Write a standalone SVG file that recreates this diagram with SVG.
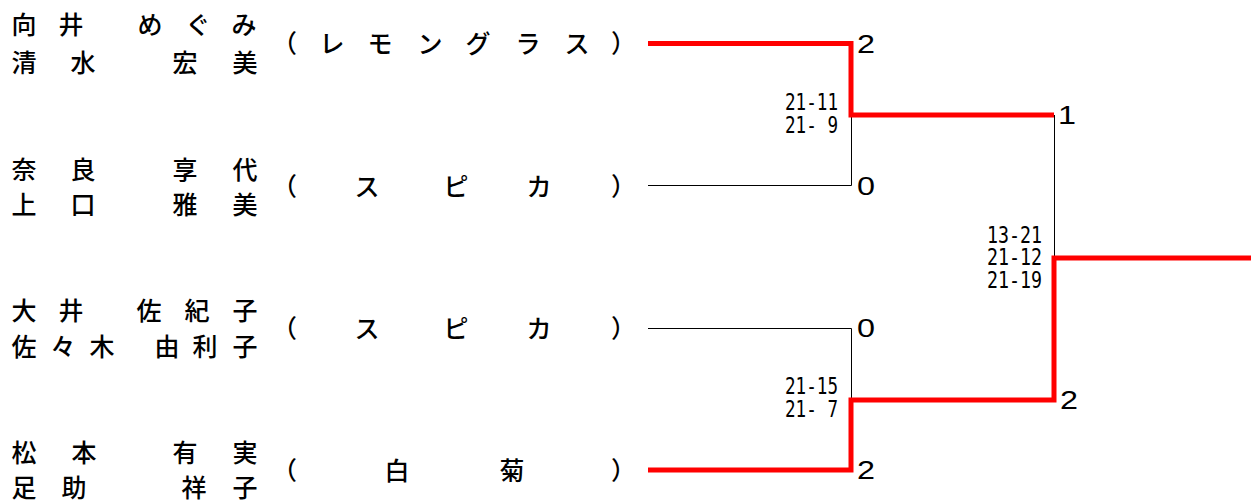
<svg xmlns="http://www.w3.org/2000/svg" width="1251" height="500" viewBox="0 0 1251 500">
<style>
.nm{font-family:"Noto Sans CJK JP","Noto Sans CJK SC",sans-serif;font-size:25px;font-weight:500;fill:#000;text-anchor:middle}
.sc{font-family:"DejaVu Sans Mono","Liberation Mono",monospace;font-size:17px;fill:#000}
.big{font-family:"Liberation Sans",Arial,sans-serif;font-size:25px;fill:#000}
.thin{fill:none;stroke:#000;stroke-width:1}
.win{fill:none;stroke:#ff0000;stroke-width:5;stroke-linejoin:miter;stroke-linecap:butt}
</style>
<rect width="1251" height="500" fill="#fff"/>
<g id="entry1">
<text class="nm" x="24 71 150 198 244" y="33.5">向井めぐみ</text>
<text class="nm" x="24 83 185 245" y="71.5">清水宏美</text>
<text class="nm" x="284.5 332 380 430 478 528 577 623.5" y="53">（レモングラス）</text>
</g>
<g id="entry2">
<text class="nm" x="24 83 185 245" y="178.5">奈良享代</text>
<text class="nm" x="24 83 185 245" y="213.5">上口雅美</text>
<text class="nm" x="284.5 367 456 539 623.5" y="195.5">（スピカ）</text>
</g>
<g id="entry3">
<text class="nm" x="24 71 149 197 245" y="319.5">大井佐紀子</text>
<text class="nm" x="24 63 102 167 205 245" y="355.5">佐々木由利子</text>
<text class="nm" x="284.5 367 456 539 623.5" y="337.5">（スピカ）</text>
</g>
<g id="entry4">
<text class="nm" x="24 84 185 245" y="461.5">松本有実</text>
<text class="nm" x="24 74 194 245" y="497">足助祥子</text>
<text class="nm" x="284.5 397 512 623.5" y="479.5">（白菊）</text>
</g>
<g id="connectors">
<path class="thin" d="M648,185.5 H851.5 V115"/>
<path class="thin" d="M1054.5,115 V258"/>
<path class="thin" d="M648,328.5 H851.5 V400"/>
<path class="win" d="M648,43.5 H851 V115 H1054"/>
<path class="win" d="M648,470 H851 V400 H1054 V258 H1251"/>
</g>
<g id="match1">
<text class="sc" transform="translate(785,110) scale(1,1.3)" textLength="53" lengthAdjust="spacingAndGlyphs">21-11</text>
<text class="sc" transform="translate(785,133) scale(1,1.3)" textLength="53" lengthAdjust="spacingAndGlyphs" xml:space="preserve">21- 9</text>
<text class="big" x="857" y="53" textLength="18" lengthAdjust="spacingAndGlyphs">2</text>
<text class="big" x="857" y="195" textLength="18" lengthAdjust="spacingAndGlyphs">0</text>
</g>
<g id="match2">
<text class="sc" transform="translate(785,394) scale(1,1.3)" textLength="53" lengthAdjust="spacingAndGlyphs">21-15</text>
<text class="sc" transform="translate(785,417) scale(1,1.3)" textLength="53" lengthAdjust="spacingAndGlyphs" xml:space="preserve">21- 7</text>
<text class="big" x="857" y="337" textLength="18" lengthAdjust="spacingAndGlyphs">0</text>
<text class="big" x="857" y="479" textLength="18" lengthAdjust="spacingAndGlyphs">2</text>
</g>
<g id="final">
<text class="sc" transform="translate(987,243) scale(1,1.3)" textLength="55" lengthAdjust="spacingAndGlyphs">13-21</text>
<text class="sc" transform="translate(987,265) scale(1,1.3)" textLength="55" lengthAdjust="spacingAndGlyphs">21-12</text>
<text class="sc" transform="translate(987,288) scale(1,1.3)" textLength="55" lengthAdjust="spacingAndGlyphs">21-19</text>
<text class="big" x="1058" y="124" textLength="18" lengthAdjust="spacingAndGlyphs">1</text>
<text class="big" x="1060" y="409" textLength="18" lengthAdjust="spacingAndGlyphs">2</text>
</g>
</svg>
